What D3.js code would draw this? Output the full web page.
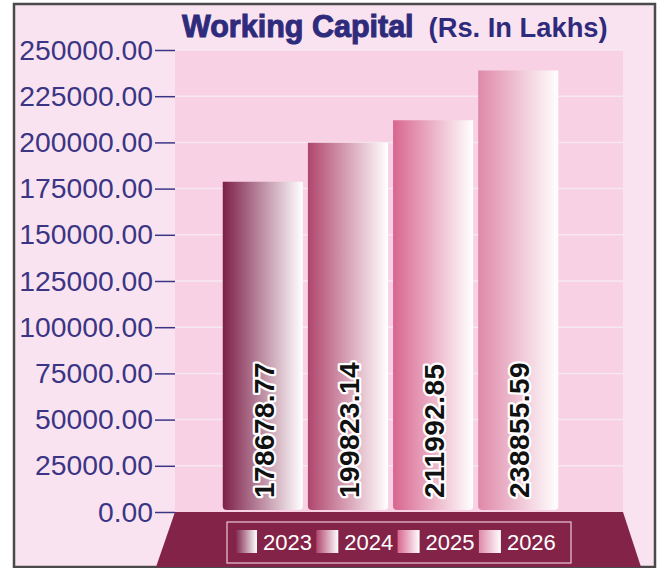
<!DOCTYPE html>
<html>
<head>
<meta charset="utf-8">
<script src="https://cdn.jsdelivr.net/npm/d3@7"></script>
<style>
  body { margin: 0; background: #ffffff; }
  svg { display: block; font-family: "Liberation Sans", Arial, sans-serif; }
</style>
</head>
<body>
<svg id="chart" width="659" height="568"></svg>
<script>
let years = ["2023", "2024", "2025", "2026"],
  values = [178678.77, 199823.14, 211992.85, 238855.59],
  yTicks = [0, 25000, 50000, 75000, 100000, 125000, 150000, 175000, 200000, 225000, 250000],
  barColors = ["#7d2049", "#b0466d", "#d8668f", "#df88a8"];

let svg = d3.select("#chart");

// outer frame
svg.append("rect")
  .attr("x", 14).attr("y", 4)
  .attr("width", 641).attr("height", 563)
  .attr("fill", "#fae3f0")
  .attr("stroke", "#4a4a4a")
  .attr("stroke-width", 2.5);

let plot = { left: 175, right: 623, top: 50, bottom: 512 };

let y = d3.scaleLinear()
  .domain([0, 250000])
  .range([plot.bottom, plot.top]);

let x = d3.scaleBand()
  .domain(years)
  .range([220.2, 560.8])
  .paddingInner(0.06)
  .paddingOuter(0.03);

// plot background
svg.append("rect")
  .attr("x", plot.left).attr("y", plot.top)
  .attr("width", plot.right - plot.left)
  .attr("height", plot.bottom - plot.top)
  .attr("fill", "#f8d1e4");

// grid lines
svg.append("g")
  .selectAll("line")
  .data(yTicks.slice(1))
  .enter().append("line")
  .attr("x1", plot.left).attr("x2", plot.right)
  .attr("y1", d => y(d)).attr("y2", d => y(d))
  .attr("stroke", "#f6e8f0")
  .attr("stroke-width", 1.5);

// gradients
let defs = svg.append("defs");
barColors.forEach((c, i) => {
  let g = defs.append("linearGradient")
    .attr("id", "grad" + i)
    .attr("x1", "0%").attr("x2", "100%")
    .attr("y1", "0%").attr("y2", "0%");
  g.append("stop").attr("offset", "0%").attr("stop-color", c);
  g.append("stop").attr("offset", "100%").attr("stop-color", "#ffffff");
});

// floor band
let floorTop = plot.bottom, floorBottom = 567;
svg.append("path")
  .attr("d", `M${plot.left},${floorTop} L${plot.right},${floorTop} L${641},${floorBottom} L${156},${floorBottom} Z`)
  .attr("fill", "#842348");

// bars with rounded bottom corners
function barPath(x0, w, yTop, yBot, r) {
  return `M${x0},${yTop} H${x0 + w} V${yBot - r} Q${x0 + w},${yBot} ${x0 + w - r},${yBot}` +
    ` H${x0 + r} Q${x0},${yBot} ${x0},${yBot - r} Z`;
}

let bars = svg.append("g");
bars.selectAll("path")
  .data(values)
  .enter().append("path")
  .attr("d", (d, i) => barPath(x(years[i]), x.bandwidth(), y(d), plot.bottom - 2, 4))
  .attr("fill", (d, i) => `url(#grad${i})`);

// value labels
bars.selectAll("text")
  .data(values)
  .enter().append("text")
  .attr("transform", (d, i) => `translate(${x(years[i]) + x.bandwidth() / 2 + 11},${plot.bottom - 14}) rotate(-90)`)
  .attr("text-anchor", "start")
  .attr("font-size", 28)
  .attr("font-weight", "bold")
  .attr("letter-spacing", 0.4)
  .attr("fill", "#111111")
  .attr("stroke", "#ffffff")
  .attr("stroke-width", 4.5)
  .attr("paint-order", "stroke")
  .attr("stroke-linejoin", "round")
  .text(d => d.toFixed(2));

// y axis
let yAxis = d3.axisLeft(y)
  .tickValues(yTicks)
  .tickSize(20)
  .tickPadding(2)
  .tickFormat(d3.format(".2f"));

let axisG = svg.append("g")
  .attr("transform", `translate(${plot.left},0)`)
  .call(yAxis);
axisG.select(".domain").remove();
axisG.selectAll("line").attr("stroke", "#3b3585").attr("stroke-width", 1.5);
axisG.selectAll("text")
  .attr("font-family", "Liberation Sans, Arial, sans-serif")
  .attr("font-size", 28.3)
  .attr("fill", "#3b3585");

// title
let title = svg.append("text")
  .attr("x", 182).attr("y", 36.5)
  .attr("fill", "#2f2b7c");
title.append("tspan")
  .attr("font-size", 30.5)
  .attr("font-weight", "bold")
  .attr("stroke", "#2f2b7c")
  .attr("stroke-width", 1)
  .text("Working Capital");
title.append("tspan")
  .attr("dx", 15)
  .attr("font-size", 27.3)
  .attr("font-weight", "bold")
  .text("(Rs. In Lakhs)");

// legend
let legend = svg.append("g");
legend.append("rect")
  .attr("x", 227).attr("y", 522)
  .attr("width", 344).attr("height", 41)
  .attr("fill", "none")
  .attr("stroke", "#e9c6d6")
  .attr("stroke-width", 1.2);

let item = legend.selectAll("g.item")
  .data(years)
  .enter().append("g")
  .attr("class", "item")
  .attr("transform", (d, i) => `translate(${235 + i * 81.3},530)`);
item.append("rect")
  .attr("width", 22).attr("height", 23)
  .attr("fill", (d, i) => `url(#grad${i})`);
item.append("text")
  .attr("x", 28).attr("y", 20)
  .attr("font-size", 22)
  .attr("fill", "#ffffff")
  .text(d => d);
</script>
</body>
</html>
